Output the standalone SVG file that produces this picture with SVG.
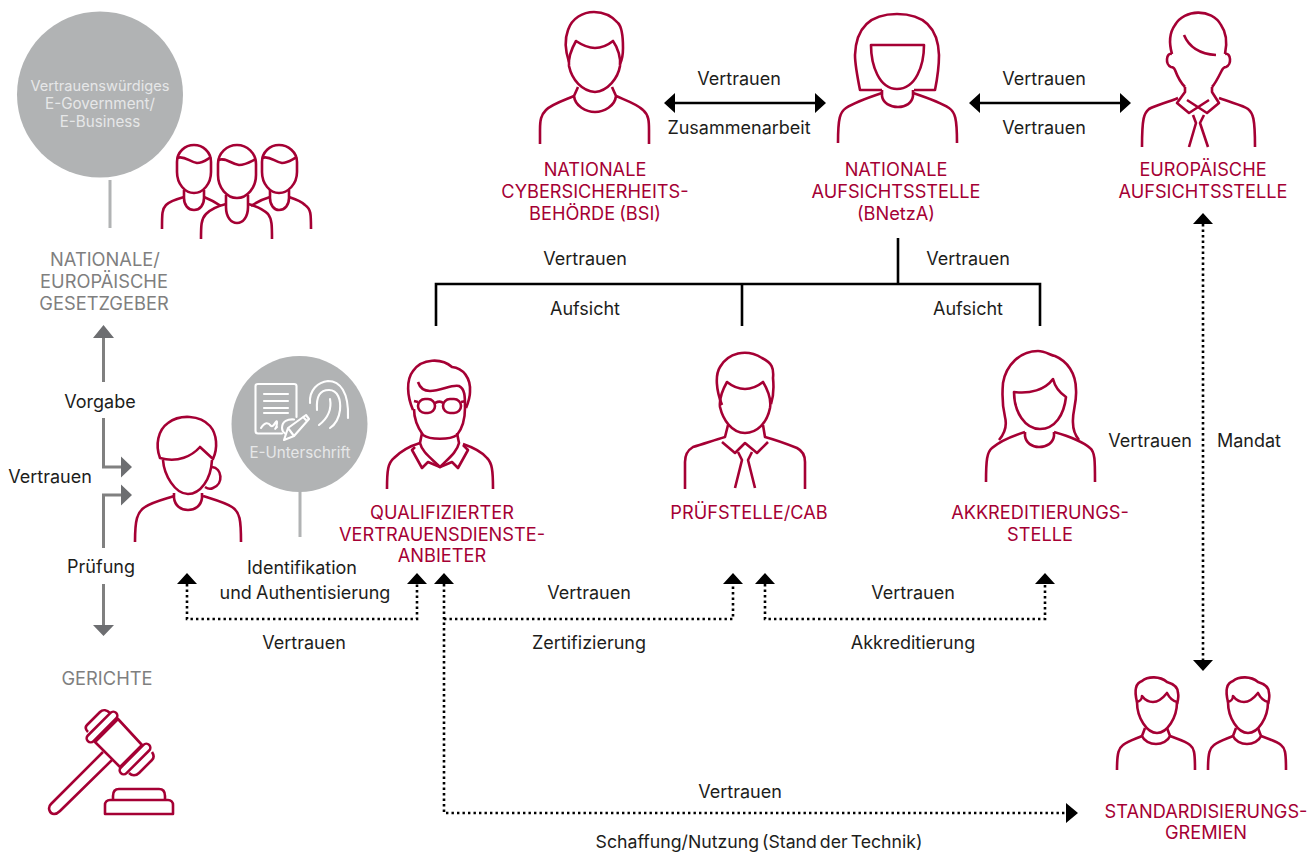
<svg xmlns="http://www.w3.org/2000/svg" width="1316" height="854" viewBox="0 0 1316 854">
<style>
text{font-family:"Inter","Liberation Sans",sans-serif;font-size:18px;fill:#1d1d1b;text-anchor:middle;word-spacing:-1px}
.r{fill:#a50034;font-size:18.200px}
.g{fill:#7f7f7f;font-size:18.300px}
.w{fill:#e6e7e8;font-size:15.200px}
.i path,.i rect{fill:none;stroke:#a50034;stroke-width:2.6;stroke-linecap:butt;stroke-linejoin:round}
.s{fill:none;stroke:#000;stroke-width:2.6}
.d{fill:none;stroke:#000;stroke-width:2.6;stroke-dasharray:2.4 3.1}
.a{fill:none;stroke:#808080;stroke-width:3}
.c{fill:none;stroke:#b1b3b4;stroke-width:3}
.b{fill:#000}
.h{fill:#6d6e71}
.f path{fill:none;stroke:#fff;stroke-width:2.100;stroke-linecap:round;stroke-linejoin:round}
</style>
<g id="connectors">
<path class="c" d="M110 180V228M300 491V537"/>
<path class="a" d="M103.500 338V382M103.500 418V467H122M103.500 548V495H122M103.500 584V625"/>
<path class="h" d="M103.500 325L114 338H93ZM132 467L121 456.500V477.500ZM132 495L121 484.500V505.500ZM103.500 636L93 625H114Z"/>
<path class="s" d="M672 103H818M977 103H1123M898 238V284M436 326V284H1040V326M742 284V326"/>
<path class="b" d="M664 103L675 93V113ZM826 103L815 93V113ZM969 103L980 93V113ZM1131 103L1120 93V113Z"/>
<path class="d" d="M187 584V619H417V584M444 584V813H1066M444 619H733V584M765 584V619H1045V584M1203 224V660"/>
<path class="b" d="M187 573L197 584H177ZM417 573L427 584H407ZM444 573L454 584H434ZM733 573L743 584H723ZM765 573L775 584H755ZM1045 573L1055 584H1035ZM1203 213L1213 224H1193ZM1203 671L1193 660H1213ZM1078 813L1066 803V823Z"/>
</g>
<g id="labels">
<text x="739" y="85">Vertrauen</text><text x="739" y="134">Zusammenarbeit</text>
<text x="1044" y="85">Vertrauen</text><text x="1044" y="134">Vertrauen</text>
<text x="585" y="265">Vertrauen</text><text x="585" y="315">Aufsicht</text>
<text x="968" y="265">Vertrauen</text><text x="968" y="315">Aufsicht</text>
<text x="1150" y="447">Vertrauen</text><text x="1249" y="447">Mandat</text>
<text x="100" y="408">Vorgabe</text><text x="50" y="483">Vertrauen</text><text x="101" y="573">Prüfung</text>
<text x="302" y="574">Identifikation</text><text x="305" y="599">und Authentisierung</text>
<text x="304" y="649">Vertrauen</text>
<text x="589" y="599">Vertrauen</text><text x="589" y="649">Zertifizierung</text>
<text x="913" y="599">Vertrauen</text><text x="913" y="649">Akkreditierung</text>
<text x="740" y="798">Vertrauen</text><text x="759" y="848" style="font-size:17.700px;word-spacing:-2px">Schaffung/Nutzung (Stand der Technik)</text>
</g>
<g id="n-egov"><circle cx="100" cy="94.500" r="83" fill="#b1b3b4"/>
<text class="w" x="100" y="91" style="font-size:14.600px">Vertrauenswürdiges</text><text class="w" x="100" y="109">E-Government/</text><text class="w" x="100" y="127">E-Business</text></g>
<g id="n-gesetzgeber" class="i">
<path d="M177 172V162C177 152 185 145 194 145C203 145 211 152 211 162V172C211 184 203 193 194 193C185 193 177 184 177 172Z"/>
<path d="M177 158C184 155 190 162 197 163C203 163 206 160 211 157"/>
<path d="M184 190V198C184 205 188 210 194 210C200 210 204 205 204 198V190"/>
<path d="M184 197C177 199 170 201 166 205C162 209 162 214 162 229"/>
<path d="M204 197C209 199 215 202 221 206"/>
<path d="M218 175V164C218 153 227 145 237 145C247 145 256 153 256 164V175C256 188 247 198 237 198C227 198 218 188 218 175Z"/>
<path d="M218 160C226 157 231 164 239 165C246 165 250 162 256 159"/>
<path d="M226 195V207C226 217 231 223 237 223C243 223 248 217 248 207V195"/>
<path d="M226 204C218 206 210 210 206 214C201 219 201 226 201 239"/>
<path d="M248 204C256 206 264 210 268 214C272 219 272 226 272 239"/>
<path d="M262 172V162C262 152 270 145 279 145C288 145 297 152 297 162V172C297 184 288 193 279 193C270 193 262 184 262 172Z"/>
<path d="M262 158C269 155 275 162 282 163C288 163 291 160 297 157"/>
<path d="M270 190V198C270 205 274 210 279 210C285 210 289 205 289 198V190"/>
<path d="M289 197C295 199 301 201 305 205C311 209 311 214 311 229"/>
<path d="M270 197C263 199 257 202 251 206"/>
</g>
<g id="t-gesetzgeber"><text class="g" x="105" y="266">NATIONALE/</text><text class="g" x="104" y="288">EUROPÄISCHE</text><text class="g" x="104" y="310">GESETZGEBER</text></g>
<g id="n-buerger" class="i">
<path d="M160 458C155 445 158 430 168 423C180 414 200 415 210 426C217 434 218 448 213 459L200 447C192 456 178 463 160 458Z"/>
<path d="M163 460C164 475 175 494 188 494C200 494 211 480 212 460"/>
<path d="M212 467C222 468 224 484 213 488C211 489 208 489 205 487"/>
<path d="M174 493V498C175 506 181 510 188 510C195 510 201 506 202 498V493"/>
<path d="M174 496C165 499 152 502 145 507C137 512 135 520 135 542"/>
<path d="M203 496C212 499 224 502 232 507C240 512 241 520 241 542"/>
</g>
<g id="n-eunterschrift"><circle cx="299.500" cy="424" r="68" fill="#b1b3b4"/>
<text class="w" x="300" y="458">E-Unterschrift</text>
<g class="f">
<path d="M282 433.500H258C256 433.500 255.500 432 255.500 431V386C255.500 385 256.500 384 258 384H294C295.500 384 296.500 385 296.500 386V417"/>
<path d="M264 394H288M264 401H288M264 408H288M264 413H288"/>
<path d="M261 428C265 422 268 422 271 426C274 428 277 417 277 423C277 428 273 431 277 427"/>
<path d="M294 419.500C288 419 282 421 282 428C282 431 283 432 285 433.500"/>
<path d="M284 440L288 428L306 415L309 419L294 436ZM288 428L294 436M303 417L307 421"/>
<path d="M310 403C309 390 318 382 328 381C340 381 349 392 348 418"/>
<path d="M317 410C316 396 320 390 329 390C338 390 341 400 340 410C339 418 336 424 330 428"/>
<path d="M330 399C332 410 328 418 319 425"/>
</g></g>
<g id="n-gerichte"><text class="g" x="107" y="685">GERICHTE</text>
<g class="i">
<path d="M103 752L51 804C47 808 50 814 54 814C56 814 58 813 60 811L112 760"/>
<path d="M95 742L118 719L142 745L120 767Z"/>
<rect x="82" y="723" width="40" height="8" rx="4" transform="rotate(-45 102 727)"/>
<path d="M88 732C85 729 85 727 87 725L100 712C103 709 107 710 110 713"/>
<rect x="115" y="755" width="40" height="8" rx="4" transform="rotate(-45 135 759)"/>
<path d="M152 752C154 755 154 758 152 760L139 773C136 776 132 776 129 773"/>
<path d="M113 800V796C113 791 115 789 119 789H159C163 789 165 792 165 796V800"/>
<path d="M105 814V805C105 802 107 800 110 800H168C171 800 173 802 173 805V814Z"/>
</g></g>
<g id="n-bsi"><g class="i">
<path d="M569 62C565 50 565 38 568 30C572 18 583 12 594 12C604 12 612 16 618 23C623 28 623 40 623 48C623 55 622 60 620 64"/>
<path d="M576 41C582 45 588 48 595 48C602 48 608 45 613 41C618 48 621 58 620 66C618 78 608 91 595 92C582 91 572 80 569 66C568 57 572 48 576 41Z"/>
<path d="M578 87L574 96C575 106 586 112 595 112C604 112 615 106 616 96L612 87"/>
<path d="M574 96C565 100 552 104 546 110C541 115 540 120 540 130V144M616 96C625 100 637 104 643 110C649 115 649 122 649 130V144"/>
</g><text class="r" x="595" y="176">NATIONALE</text><text class="r" x="595" y="198">CYBERSICHERHEITS-</text><text class="r" x="595" y="220">BEHÖRDE (BSI)</text></g>
<g id="n-bnetza"><g class="i">
<path d="M882 90H860C857 75 855 65 855 55C856 28 870 14 897 14C924 14 938 28 939 55C939 65 938 75 935 90H914"/>
<path d="M871 45H924C924 65 916 89 897 89C879 89 871 65 871 45Z"/>
<path d="M882 90V96C883 103 890 107 898 107C906 107 912 103 913 96V90"/>
<path d="M882 93C870 97 855 102 846 108C840 112 838 118 838 143M913 93C925 97 940 102 949 108C955 112 957 118 957 143"/>
</g><text class="r" x="896" y="176">NATIONALE</text><text class="r" x="896" y="198">AUFSICHTSSTELLE</text><text class="r" x="896" y="220">(BNetzA)</text></g>
<g id="n-euaufsicht"><g class="i">
<path d="M1172 54C1168 40 1170 32 1175 25C1184 9 1212 8 1221 25C1226 32 1228 40 1225 54"/>
<path d="M1172 54C1166 52 1165 65 1171 67C1174 67 1174 68 1175 70C1178 78 1182 84 1185 87M1225 54C1231 52 1232 65 1226 67C1223 67 1222 70 1221 72C1218 78 1215 84 1212 87"/>
<path d="M1184 35C1189 47 1200 54 1216 55"/>
<path d="M1185 87V92L1177 103L1189 113L1209 100M1212 87V92L1219 103L1207 113L1187 100"/>
<path d="M1178 98C1166 103 1156 105 1149 109C1144 113 1142 118 1142 147M1219 98C1232 103 1243 105 1248 109C1253 113 1255 118 1255 147"/>
<path d="M1193 115L1196 123L1189 147M1204 115L1200 123L1208 147"/>
</g><text class="r" x="1203" y="176">EUROPÄISCHE</text><text class="r" x="1203" y="198">AUFSICHTSSTELLE</text></g>
<g id="n-qvda"><g class="i">
<path d="M413 410C407 396 406 380 413 371C422 358 442 358 452 367C463 368 471 378 470 392C470 398 468 403 466 408"/>
<path d="M418 382C420 388 424 391 430 391C441 391 452 384 459 386C465 389 465 396 465 408C465 420 461 430 457 435C450 440 430 440 423 435C418 428 414 420 414 409"/>
<rect x="418" y="399" width="17" height="14" rx="7"/><rect x="443" y="399" width="18" height="14" rx="7"/>
<path d="M418 402L414 401M435 403C439 401 441 401 443 403M461 402L466 401"/>
<path d="M422 433L420 443C422 452 431 458 440 467C449 458 457 452 459 443L457 433"/>
<path d="M415 447L412 450L422 468L428 462L440 467L452 462L458 468L468 450L463 445"/>
<path d="M420 443C410 446 400 452 394 458C388 463 387 470 387 489M463 444C472 447 482 452 487 458C492 463 493 470 493 489"/>
</g><text class="r" x="442" y="519">QUALIFIZIERTER</text><text class="r" x="442" y="541">VERTRAUENSDIENSTE-</text><text class="r" x="442" y="562">ANBIETER</text></g>
<g id="n-pruef"><g class="i">
<path d="M722 405C716 390 715 375 720 367C728 353 746 348 762 358C772 363 774 368 773 378C774 388 773 398 771 404"/>
<path d="M727 382C732 386 738 389 745 389C752 389 758 386 763 382C769 392 771 402 770 408C767 423 757 433 745 433C732 433 723 420 720 407C719 398 723 389 727 382Z"/>
<path d="M728 425L725 437C715 440 703 444 693 447C688 450 685 454 685 462V489M763 425L765 437C776 440 787 444 797 448C803 451 805 455 805 462V489"/>
<path d="M722 442L735 453L745 443L757 453L768 442"/>
<path d="M738 452L742 460L735 488M752 452L748 460L755 488"/>
</g><text class="r" x="749" y="519">PRÜFSTELLE/CAB</text></g>
<g id="n-akk"><g class="i">
<path d="M999 440C1005 433 1007 425 1005 417C1002 405 1002 395 1003 383C1006 365 1020 351 1038 351C1045 351 1050 355 1055 356C1067 361 1076 373 1076 390C1077 403 1072 412 1073 423C1073 430 1075 435 1079 440"/>
<path d="M1014 392C1030 394 1045 390 1053 379C1055 387 1060 393 1066 397C1064 415 1055 429 1040 429C1025 429 1014 412 1014 392Z"/>
<path d="M1025 432V436C1026 443 1032 447 1039 447C1047 447 1053 443 1054 436V432"/>
<path d="M1025 432C1012 436 1000 441 992 448C987 452 986 460 986 482M1054 432C1068 436 1082 441 1090 448C1095 452 1095 460 1095 482"/>
</g><text class="r" x="1040" y="519">AKKREDITIERUNGS-</text><text class="r" x="1040" y="541">STELLE</text></g>
<g id="n-std"><g class="i">
<path d="M1137 702C1134 690 1136 683 1142 681C1148 676 1160 676 1167 682C1174 684 1178 688 1178 693C1179 697 1178 700 1177 704"/>
<path d="M1137 702C1140 701 1142 700 1142 696C1145 700 1148 702 1153 702C1158 702 1163 698 1167 693C1170 699 1173 701 1177 702C1177 718 1167 733 1157 733C1147 733 1137 718 1137 702Z"/>
<path d="M1145 728L1142 736C1144 741 1150 744 1156 744C1162 744 1168 741 1170 736L1167 728"/>
<path d="M1142 736C1135 739 1128 741 1123 745C1119 748 1117 752 1117 770M1170 736C1177 739 1185 741 1190 745C1194 748 1195 752 1195 770"/>
<path d="M1228 702C1225 690 1227 683 1233 681C1239 676 1251 676 1258 682C1265 684 1269 688 1269 693C1270 697 1269 700 1268 704"/>
<path d="M1228 702C1231 701 1233 700 1233 696C1236 700 1239 702 1244 702C1249 702 1254 698 1258 693C1261 699 1264 701 1268 702C1268 718 1258 733 1248 733C1238 733 1228 718 1228 702Z"/>
<path d="M1236 728L1233 736C1235 741 1241 744 1247 744C1253 744 1259 741 1261 736L1258 728"/>
<path d="M1233 736C1226 739 1219 741 1214 745C1210 748 1208 752 1208 770M1261 736C1268 739 1276 741 1281 745C1285 748 1286 752 1286 770"/>
</g><text class="r" x="1206" y="818">STANDARDISIERUNGS-</text><text class="r" x="1206" y="839">GREMIEN</text></g>
</svg>
